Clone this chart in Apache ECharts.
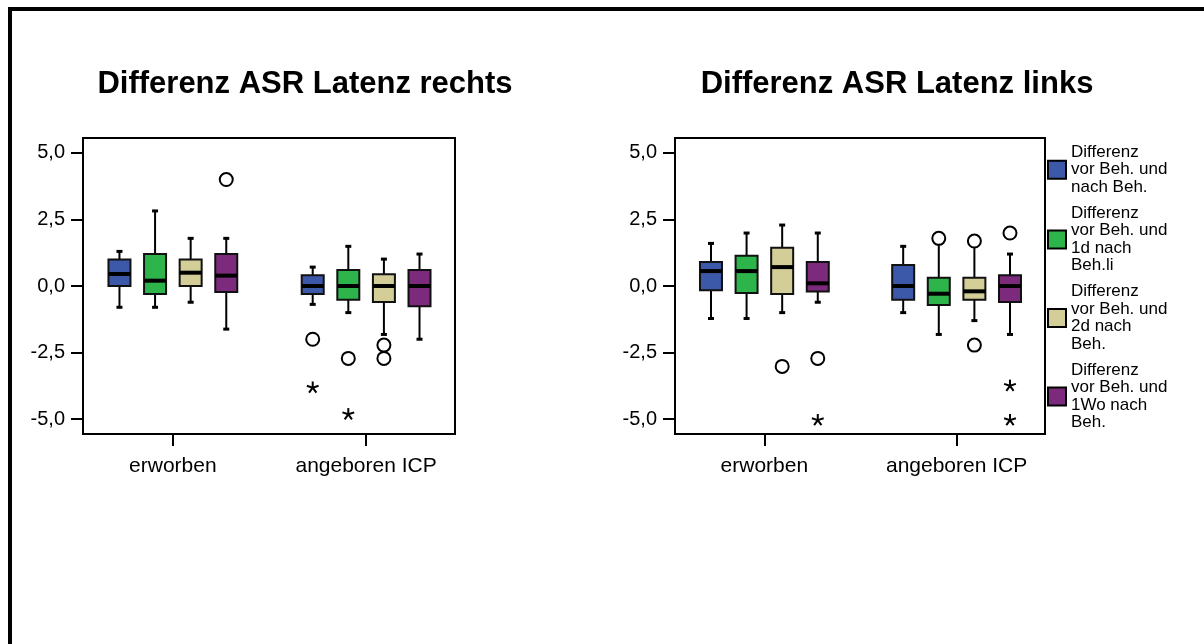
<!DOCTYPE html>
<html>
<head>
<meta charset="utf-8">
<script src="https://cdn.jsdelivr.net/npm/echarts@6.0.0/dist/echarts.min.js"></script>
<style>
html,body{margin:0;padding:0;background:#fff;}
#chart{width:1204px;height:644px;}
</style>
</head>
<body>
<div id="chart"></div>
<script>
// ---------- DATA ----------
const categories = ['erworben', 'angeboren ICP'];
const seriesNames = [
  'Differenz vor Beh. und nach Beh.',
  'Differenz vor Beh. und 1d nach Beh.li',
  'Differenz vor Beh. und 2d nach Beh.',
  'Differenz vor Beh. und 1Wo nach Beh.'
];
const legendLabels = [
  'Differenz\nvor Beh. und\nnach Beh.',
  'Differenz\nvor Beh. und\n1d nach\nBeh.li',
  'Differenz\nvor Beh. und\n2d nach\nBeh.',
  'Differenz\nvor Beh. und\n1Wo nach\nBeh.'
];
const titles = ['Differenz ASR Latenz rechts', 'Differenz ASR Latenz links'];
const yTicks = [-5, -2.5, 0, 2.5, 5];

// box values per category: [lower whisker, Q1, median, Q3, upper whisker]
const rechtsNachBeh = [[-0.80, 0.00, 0.45, 1.00, 1.30], [-0.69, -0.30, 0.00, 0.40, 0.71]];
const rechts1d      = [[-0.80, -0.30, 0.20, 1.20, 2.82], [-1.00, -0.52, 0.00, 0.60, 1.49]];
const rechts2d      = [[-0.61, 0.00, 0.50, 1.00, 1.79], [-1.82, -0.60, 0.00, 0.44, 1.01]];
const rechts1Wo     = [[-1.62, -0.23, 0.39, 1.20, 1.79], [-2.00, -0.76, 0.00, 0.60, 1.20]];
// outliers: [category (1|2), series index, value]
const rechtsOutliers = [[1, 3, 4.00], [2, 0, -2.00], [2, 1, -2.72], [2, 2, -2.22], [2, 2, -2.72]];
const rechtsExtremes = [[2, 0, -3.82], [2, 1, -4.82]];

const linksNachBeh = [[-1.22, -0.16, 0.56, 0.90, 1.60], [-1.00, -0.52, 0.00, 0.79, 1.49]];
const links1d      = [[-1.22, -0.26, 0.56, 1.14, 1.99], [-1.82, -0.71, -0.29, 0.31, 1.67]];
const links2d      = [[-1.00, -0.30, 0.71, 1.44, 2.29], [-1.30, -0.52, -0.20, 0.31, 1.49]];
const links1Wo     = [[-0.61, -0.21, 0.10, 0.90, 1.99], [-1.82, -0.60, 0.00, 0.40, 1.20]];
const linksOutliers = [[1, 2, -3.02], [1, 3, -2.72], [2, 1, 1.79], [2, 2, 1.69], [2, 2, -2.22], [2, 3, 1.99]];
const linksExtremes = [[1, 3, -5.04], [2, 3, -3.75], [2, 3, -5.04]];

// ---------- STYLE / LAYOUT ----------
const colors = ['#3C58A8', '#2DB44B', '#D3CD98', '#7B2A7C'];
const boxOffsets = [-53.4, -17.8, 17.8, 53.4];
const BOX_W = 22;
const CAP = 3;
const FONT = '"Liberation Sans", Arial, sans-serif';

function boxRender(offset) {
  return function (params, api) {
    const x = api.value(0);
    const ys = [1, 2, 3, 4, 5].map(function (d) { return api.coord([x, api.value(d)])[1]; });
    const cx = api.coord([x, 0])[0] + offset;
    const yLo = ys[0], yQ1 = ys[1], yMed = ys[2], yQ3 = ys[3], yHi = ys[4];
    const hw = BOX_W / 2;
    const ln = { stroke: '#000', lineWidth: 2 };
    return {
      type: 'group',
      children: [
        { type: 'line', shape: { x1: cx, y1: yHi, x2: cx, y2: yQ3 }, style: ln },
        { type: 'line', shape: { x1: cx, y1: yQ1, x2: cx, y2: yLo }, style: ln },
        { type: 'line', shape: { x1: cx - CAP, y1: yHi, x2: cx + CAP, y2: yHi }, style: { stroke: '#000', lineWidth: 3 } },
        { type: 'line', shape: { x1: cx - CAP, y1: yLo, x2: cx + CAP, y2: yLo }, style: { stroke: '#000', lineWidth: 3 } },
        { type: 'rect', shape: { x: cx - hw, y: yQ3, width: BOX_W, height: yQ1 - yQ3 },
          style: { fill: api.visual('color'), stroke: '#111', lineWidth: 2 } },
        { type: 'line', shape: { x1: cx - hw, y1: yMed, x2: cx + hw, y2: yMed }, style: { stroke: '#000', lineWidth: 4 } }
      ]
    };
  };
}

function circleRender(params, api) {
  const x = api.value(0), s = api.value(1), v = api.value(2);
  const p = api.coord([x, v]);
  return { type: 'circle', shape: { cx: p[0] + boxOffsets[s], cy: p[1], r: 6.5 },
           style: { fill: '#fff', stroke: '#000', lineWidth: 2 } };
}

function starRender(params, api) {
  const x = api.value(0), s = api.value(1), v = api.value(2);
  const p = api.coord([x, v]);
  const cx = p[0] + boxOffsets[s], cy = p[1];
  const R = 6.2;
  const children = [];
  for (let k = 0; k < 5; k++) {
    const a = -Math.PI / 2 + k * 2 * Math.PI / 5;
    children.push({ type: 'line', shape: { x1: cx, y1: cy, x2: cx + R * Math.cos(a), y2: cy + R * Math.sin(a) },
                    style: { stroke: '#000', lineWidth: 2 } });
  }
  return { type: 'group', children: children };
}

const grids = [
  { left: 83, top: 138, width: 372, height: 296 },
  { left: 675, top: 138, width: 370, height: 296 }
];

function fmtY(v) { return v.toFixed(1).replace('.', ','); }

const xAxes = grids.map(function (g, i) {
  return {
    type: 'value', gridIndex: i, min: 0.535, max: 2.46, position: 'bottom',
    axisLine: { show: false, onZero: false },
    splitLine: { show: false },
    axisTick: { show: true, customValues: [1, 2], length: 12, lineStyle: { color: '#000', width: 2 } },
    axisLabel: { customValues: [1, 2], margin: 22, color: '#000', fontSize: 21, fontFamily: FONT,
                 formatter: function (v) { return categories[Math.round(v) - 1]; } }
  };
});
const yAxes = grids.map(function (g, i) {
  return {
    type: 'value', gridIndex: i, min: -5.56, max: 5.56, position: 'left',
    axisLine: { show: false, onZero: false },
    splitLine: { show: false },
    axisTick: { show: true, customValues: yTicks, length: 12, lineStyle: { color: '#000', width: 2 } },
    axisLabel: { customValues: yTicks, margin: 18, color: '#000', fontSize: 20, fontFamily: FONT, formatter: fmtY }
  };
});

const boxSets = [
  [rechtsNachBeh, rechts1d, rechts2d, rechts1Wo],
  [linksNachBeh, links1d, links2d, links1Wo]
];
const outlierSets = [rechtsOutliers, linksOutliers];
const extremeSets = [rechtsExtremes, linksExtremes];

const series = [];
boxSets.forEach(function (set, gi) {
  set.forEach(function (vals, si) {
    series.push({
      type: 'custom', name: seriesNames[si], xAxisIndex: gi, yAxisIndex: gi,
      renderItem: boxRender(boxOffsets[si]),
      itemStyle: { color: colors[si], borderColor: '#000', borderWidth: 2 },
      encode: { x: 0, y: [1, 2, 3, 4, 5] },
      data: vals.map(function (v, ci) { return [ci + 1].concat(v); }),
      z: 2
    });
  });
  series.push({
    type: 'custom', name: 'outliers' + gi, xAxisIndex: gi, yAxisIndex: gi,
    renderItem: circleRender, encode: { x: 0, y: 2 }, data: outlierSets[gi], z: 3
  });
  series.push({
    type: 'custom', name: 'extremes' + gi, xAxisIndex: gi, yAxisIndex: gi,
    renderItem: starRender, encode: { x: 0, y: 2 }, data: extremeSets[gi], z: 3
  });
});

const option = {
  animation: false,
  backgroundColor: '#fff',
  grid: grids.map(function (g) {
    return Object.assign({ show: true, borderColor: '#000', borderWidth: 2, backgroundColor: 'transparent' }, g);
  }),
  xAxis: xAxes,
  yAxis: yAxes,
  legend: {
    orient: 'vertical', left: 1047, top: 143.5, padding: 0,
    itemWidth: 18, itemHeight: 18, itemGap: 8.5, icon: 'rect', selectedMode: false,
    data: seriesNames,
    itemStyle: { borderColor: '#000', borderWidth: 2 },
    textStyle: { color: '#000', fontSize: 17, lineHeight: 17.5, fontFamily: FONT },
    formatter: function (name) { return legendLabels[seriesNames.indexOf(name)]; }
  },
  graphic: [
    { type: 'rect', shape: { x: 8, y: 7, width: 1196, height: 4 }, style: { fill: '#000' } },
    { type: 'rect', shape: { x: 8, y: 7, width: 4, height: 637 }, style: { fill: '#000' } },
    { type: 'text', x: 305, y: 84, style: { text: titles[0], textAlign: 'center', textVerticalAlign: 'middle',
      font: 'bold 31px "Liberation Sans", Arial, sans-serif', fill: '#000' } },
    { type: 'text', x: 897, y: 84, style: { text: titles[1], textAlign: 'center', textVerticalAlign: 'middle',
      font: 'bold 31px "Liberation Sans", Arial, sans-serif', fill: '#000' } }
  ],
  series: series
};

const chart = echarts.init(document.getElementById('chart'), null, { renderer: 'canvas' });
chart.setOption(option);
</script>
</body>
</html>
